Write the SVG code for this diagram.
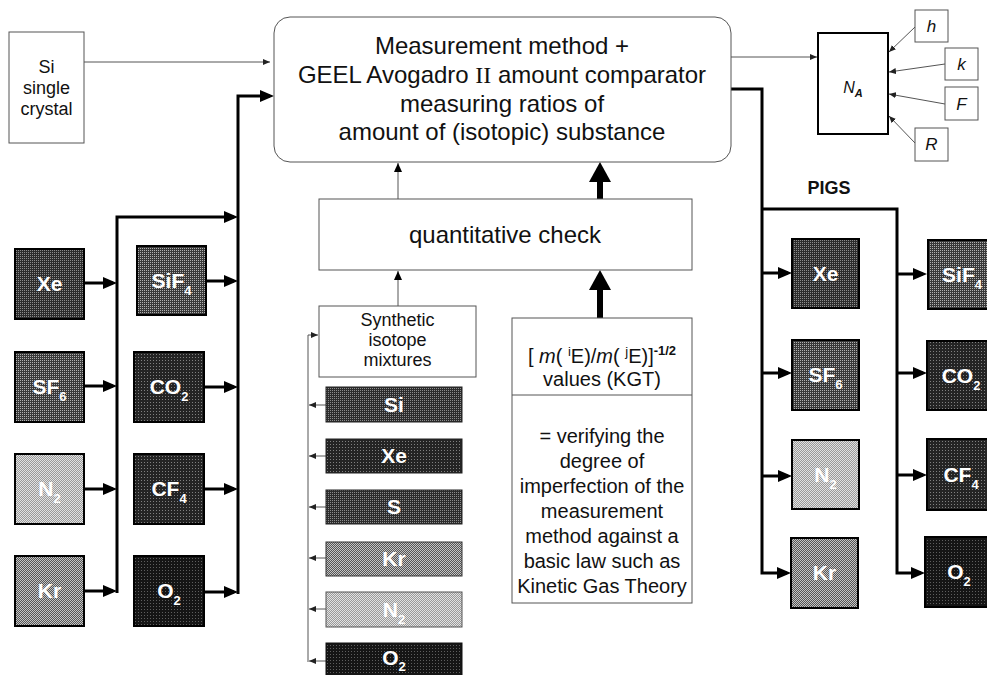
<svg xmlns="http://www.w3.org/2000/svg" width="987" height="675" viewBox="0 0 987 675">
<defs>
<style>
.box{fill:#fff;stroke:#555;stroke-width:1}
.gas{stroke:#000;stroke-width:2}
.t{font-family:"Liberation Sans",Arial,sans-serif;fill:#111;text-anchor:middle}
.gl{font-family:"Liberation Sans",Arial,sans-serif;font-weight:bold;font-size:21px;fill:#fff;text-anchor:middle}
.sub{font-size:13px}
.thick{fill:none;stroke:#000;stroke-width:3}
.fat{fill:none;stroke:#000;stroke-width:6}
.thin{fill:none;stroke:#555;stroke-width:1}
</style>
<!-- arrowheads -->
<marker id="aT" viewBox="0 0 14 12" refX="10" refY="6" markerWidth="14" markerHeight="12" markerUnits="userSpaceOnUse" orient="auto"><path d="M0,0L14,6L0,12z" fill="#000"/></marker>
<marker id="aS" viewBox="0 0 7 6" refX="7" refY="3" markerWidth="7" markerHeight="6" markerUnits="userSpaceOnUse" orient="auto"><path d="M0,0L7,3L0,6z" fill="#222"/></marker>
<marker id="aM" viewBox="0 0 9 8" refX="9" refY="4" markerWidth="9" markerHeight="8" markerUnits="userSpaceOnUse" orient="auto"><path d="M0,0L9,4L0,8z" fill="#000"/></marker>
<marker id="aB" viewBox="0 0 20 22" refX="13" refY="11" markerWidth="20" markerHeight="22" markerUnits="userSpaceOnUse" orient="auto"><path d="M0,0L20,11L0,22z" fill="#000"/></marker>
<!-- halftone fills -->
<pattern id="tVeryDark" width="3" height="3" patternUnits="userSpaceOnUse"><rect width="3" height="3" fill="#151515"/><rect width="1" height="1" fill="#5e5e5e"/></pattern>
<pattern id="tDark" width="3" height="3" patternUnits="userSpaceOnUse"><rect width="3" height="3" fill="#242424"/><rect width="1" height="1" fill="#808080"/></pattern>
<pattern id="tDarkMid" width="2" height="2" patternUnits="userSpaceOnUse"><rect width="2" height="2" fill="#2c2c2c"/><rect width="1" height="1" fill="#8c8c8c"/></pattern>
<pattern id="tMidDark" width="2" height="2" patternUnits="userSpaceOnUse"><rect width="2" height="2" fill="#383838"/><rect width="1" height="1" fill="#b0b0b0"/></pattern>
<pattern id="tMid" width="2" height="2" patternUnits="userSpaceOnUse"><rect width="2" height="2" fill="#555"/><rect width="1" height="1" fill="#c4c4c4"/><rect x="1" y="1" width="1" height="1" fill="#c4c4c4"/></pattern>
<pattern id="tLight" width="2" height="2" patternUnits="userSpaceOnUse"><rect width="2" height="2" fill="#9a9a9a"/><rect width="1" height="1" fill="#e2e2e2"/><rect x="1" y="1" width="1" height="1" fill="#e2e2e2"/></pattern>
</defs>
<rect width="987" height="675" fill="#fff"/>

<!-- connectors -->
<g id="connectors">
  <!-- left feed -->
  <path class="thin" d="M84,62H270" marker-end="url(#aS)"/>
  <path class="thick" d="M84,283H113" marker-end="url(#aT)"/>
  <path class="thick" d="M84,386H113" marker-end="url(#aT)"/>
  <path class="thick" d="M84,489H113" marker-end="url(#aT)"/>
  <path class="thick" d="M84,591H113" marker-end="url(#aT)"/>
  <path class="thick" d="M117,593V217H234" marker-end="url(#aT)"/>
  <path class="thick" d="M206,281H234" marker-end="url(#aT)"/>
  <path class="thick" d="M204,387H234" marker-end="url(#aT)"/>
  <path class="thick" d="M204,489H234" marker-end="url(#aT)"/>
  <path class="thick" d="M204,592H234" marker-end="url(#aT)"/>
  <path class="thick" d="M238,594V96H270" marker-end="url(#aT)"/>
  <!-- central checks -->
  <path class="thin" stroke="#222" d="M398,306V271" marker-end="url(#aM)"/>
  <path class="thin" stroke="#222" d="M398,199V163" marker-end="url(#aM)"/>
  <path class="fat" d="M600,318V277" marker-end="url(#aB)"/>
  <path class="fat" d="M600,199V169" marker-end="url(#aB)"/>
  <!-- isotope mixture feeds -->
  <path class="thin" d="M308,662V335H318" marker-end="url(#aS)"/>
  <path class="thin" d="M326,405H309" marker-end="url(#aS)"/>
  <path class="thin" d="M326,456H309" marker-end="url(#aS)"/>
  <path class="thin" d="M326,507H309" marker-end="url(#aS)"/>
  <path class="thin" d="M326,558H309" marker-end="url(#aS)"/>
  <path class="thin" d="M326,609H309" marker-end="url(#aS)"/>
  <path class="thin" d="M326,661H309" marker-end="url(#aS)"/>
  <!-- constants -->
  <path class="thin" d="M731,57H817" marker-end="url(#aS)"/>
  <path class="thin" d="M915,27L889,52" marker-end="url(#aS)"/>
  <path class="thin" d="M945,64L889,72" marker-end="url(#aS)"/>
  <path class="thin" d="M945,104L889,94" marker-end="url(#aS)"/>
  <path class="thin" d="M915,143L889,116" marker-end="url(#aS)"/>
  <!-- PIGS distribution -->
  <path class="thick" d="M731,89H762V573H787" marker-end="url(#aT)"/>
  <path class="thick" d="M762,273H788" marker-end="url(#aT)"/>
  <path class="thick" d="M762,373H788" marker-end="url(#aT)"/>
  <path class="thick" d="M762,476H788" marker-end="url(#aT)"/>
  <path class="thick" d="M762,209H897V573H921" marker-end="url(#aT)"/>
  <path class="thick" d="M897,274H923" marker-end="url(#aT)"/>
  <path class="thick" d="M897,373H923" marker-end="url(#aT)"/>
  <path class="thick" d="M897,475H923" marker-end="url(#aT)"/>
</g>

<g id="si-crystal">
  <rect class="box" x="9" y="32" width="75" height="111"/>
  <text class="t" font-size="18" x="46.5" y="73">Si</text>
  <text class="t" font-size="18" x="46.5" y="94">single</text>
  <text class="t" font-size="18" x="46.5" y="115">crystal</text>
</g>

<g id="comparator">
  <rect class="box" x="274" y="17" width="457" height="145" rx="16"/>
  <text class="t" font-size="24" x="502" y="54">Measurement method +</text>
  <text class="t" font-size="24" x="502" y="83">GEEL Avogadro <tspan font-family="'Liberation Serif',serif">II</tspan> amount comparator</text>
  <text class="t" font-size="24" x="502" y="112">measuring ratios of</text>
  <text class="t" font-size="24" x="502" y="140">amount of (isotopic) substance</text>
</g>

<g id="na">
  <rect x="818" y="33" width="70" height="101" fill="#fff" stroke="#000" stroke-width="2"/>
  <text class="t" font-size="16" font-style="italic" x="853" y="93">N<tspan font-size="11" font-weight="bold" dy="4">A</tspan></text>
</g>
<g id="const-h"><rect class="box" x="915" y="10" width="33" height="32"/><text class="t" font-size="17" font-style="italic" x="931.5" y="32">h</text></g>
<g id="const-k"><rect class="box" x="945" y="48" width="33" height="32"/><text class="t" font-size="17" font-style="italic" x="961.5" y="70">k</text></g>
<g id="const-F"><rect class="box" x="945" y="87" width="33" height="33"/><text class="t" font-size="17" font-style="italic" x="961.5" y="110">F</text></g>
<g id="const-R"><rect class="box" x="915" y="128" width="33" height="33"/><text class="t" font-size="17" font-style="italic" x="931.5" y="150">R</text></g>

<g id="quant-check">
  <rect class="box" x="319" y="199" width="373" height="71"/>
  <text class="t" font-size="24" x="505" y="243">quantitative check</text>
</g>

<g id="synthetic">
  <rect class="box" x="319" y="306" width="157" height="71"/>
  <text class="t" font-size="18" x="397.5" y="326">Synthetic</text>
  <text class="t" font-size="18" x="397.5" y="346">isotope</text>
  <text class="t" font-size="18" x="397.5" y="366">mixtures</text>
</g>

<g id="kgt">
  <rect class="box" x="512" y="318" width="180" height="285"/>
  <line x1="512" y1="395" x2="692" y2="395" stroke="#555" stroke-width="1"/>
  <text class="t" font-size="20" x="602" y="363">[ <tspan font-style="italic">m</tspan>( <tspan font-size="13" dy="-7">i</tspan><tspan dy="7">E)/</tspan><tspan font-style="italic">m</tspan>( <tspan font-size="13" dy="-7">j</tspan><tspan dy="7">E)]</tspan><tspan font-size="13" font-weight="bold" dy="-8">-1/2</tspan></text>
  <text class="t" font-size="20" x="602" y="386">values (KGT)</text>
  <text class="t" font-size="20" x="602" y="443">= verifying the</text>
  <text class="t" font-size="20" x="602" y="468">degree of</text>
  <text class="t" font-size="20" x="602" y="493">imperfection of the</text>
  <text class="t" font-size="20" x="602" y="518">measurement</text>
  <text class="t" font-size="20" x="602" y="543">method against a</text>
  <text class="t" font-size="20" x="602" y="568">basic law such as</text>
  <text class="t" font-size="20" x="602" y="593">Kinetic Gas Theory</text>
</g>

<!-- gases, first column -->
<g id="gas-xe-1"><rect class="gas" x="15" y="249" width="69" height="70" fill="url(#tDarkMid)"/><text class="gl" x="49.5" y="291">Xe</text></g>
<g id="gas-sf6-1"><rect class="gas" x="15" y="352" width="69" height="70" fill="url(#tMidDark)"/><text class="gl" x="49.5" y="394">SF<tspan class="sub" dy="7">6</tspan></text></g>
<g id="gas-n2-1"><rect class="gas" x="15" y="454" width="69" height="70" fill="url(#tLight)"/><text class="gl" x="49.5" y="496">N<tspan class="sub" dy="7">2</tspan></text></g>
<g id="gas-kr-1"><rect class="gas" x="15" y="556" width="69" height="70" fill="url(#tMid)"/><text class="gl" x="49.5" y="598">Kr</text></g>

<!-- gases, second column -->
<g id="gas-sif4-1"><rect class="gas" x="137" y="246" width="69" height="69" fill="url(#tMidDark)"/><text class="gl" x="171.5" y="288">SiF<tspan class="sub" dy="7">4</tspan></text></g>
<g id="gas-co2-1"><rect class="gas" x="134" y="352" width="70" height="70" fill="url(#tDark)"/><text class="gl" x="169" y="394">CO<tspan class="sub" dy="7">2</tspan></text></g>
<g id="gas-cf4-1"><rect class="gas" x="134" y="454" width="70" height="70" fill="url(#tDark)"/><text class="gl" x="169" y="496">CF<tspan class="sub" dy="7">4</tspan></text></g>
<g id="gas-o2-1"><rect class="gas" x="134" y="556" width="70" height="70" fill="url(#tVeryDark)"/><text class="gl" x="169" y="598">O<tspan class="sub" dy="7">2</tspan></text></g>

<!-- isotope mixture elements -->
<g id="bar-si"><rect x="326" y="387" width="136" height="35" fill="url(#tDarkMid)" stroke="#222"/><text class="gl" x="394" y="412">Si</text></g>
<g id="bar-xe"><rect x="326" y="439" width="136" height="34" fill="url(#tDark)" stroke="#222"/><text class="gl" x="394" y="463">Xe</text></g>
<g id="bar-s"><rect x="326" y="490" width="136" height="34" fill="url(#tDarkMid)" stroke="#222"/><text class="gl" x="394" y="514">S</text></g>
<g id="bar-kr"><rect x="326" y="542" width="136" height="34" fill="url(#tMid)" stroke="#333"/><text class="gl" x="394" y="566">Kr</text></g>
<g id="bar-n2"><rect x="326" y="592" width="136" height="35" fill="url(#tLight)" stroke="#555"/><text class="gl" x="394" y="617">N<tspan class="sub" dy="7">2</tspan></text></g>
<g id="bar-o2"><rect x="326" y="643" width="136" height="35" fill="url(#tVeryDark)" stroke="#111"/><text class="gl" x="394" y="665">O<tspan class="sub" dy="6">2</tspan></text></g>

<g id="pigs-label"><text class="t" font-size="18" font-weight="bold" x="829" y="194">PIGS</text></g>

<!-- PIGS gases, first column -->
<g id="gas-xe-2"><rect class="gas" x="792" y="239" width="67" height="69" fill="url(#tDarkMid)"/><text class="gl" x="825.5" y="281">Xe</text></g>
<g id="gas-sf6-2"><rect class="gas" x="792" y="340" width="67" height="70" fill="url(#tMidDark)"/><text class="gl" x="825.5" y="382">SF<tspan class="sub" dy="7">6</tspan></text></g>
<g id="gas-n2-2"><rect class="gas" x="792" y="440" width="67" height="69" fill="url(#tLight)"/><text class="gl" x="825.5" y="482">N<tspan class="sub" dy="7">2</tspan></text></g>
<g id="gas-kr-2"><rect class="gas" x="791" y="538" width="67" height="70" fill="url(#tMid)"/><text class="gl" x="824.5" y="580">Kr</text></g>

<!-- PIGS gases, second column -->
<g id="gas-sif4-2"><rect class="gas" x="928" y="240" width="68" height="69" fill="url(#tMidDark)"/><text class="gl" x="962" y="282">SiF<tspan class="sub" dy="7">4</tspan></text></g>
<g id="gas-co2-2"><rect class="gas" x="927" y="341" width="68" height="69" fill="url(#tDark)"/><text class="gl" x="961" y="383">CO<tspan class="sub" dy="7">2</tspan></text></g>
<g id="gas-cf4-2"><rect class="gas" x="927" y="439" width="68" height="71" fill="url(#tDark)"/><text class="gl" x="961" y="482">CF<tspan class="sub" dy="7">4</tspan></text></g>
<g id="gas-o2-2"><rect class="gas" x="925" y="537" width="68" height="70" fill="url(#tVeryDark)"/><text class="gl" x="959" y="579">O<tspan class="sub" dy="7">2</tspan></text></g>
</svg>
